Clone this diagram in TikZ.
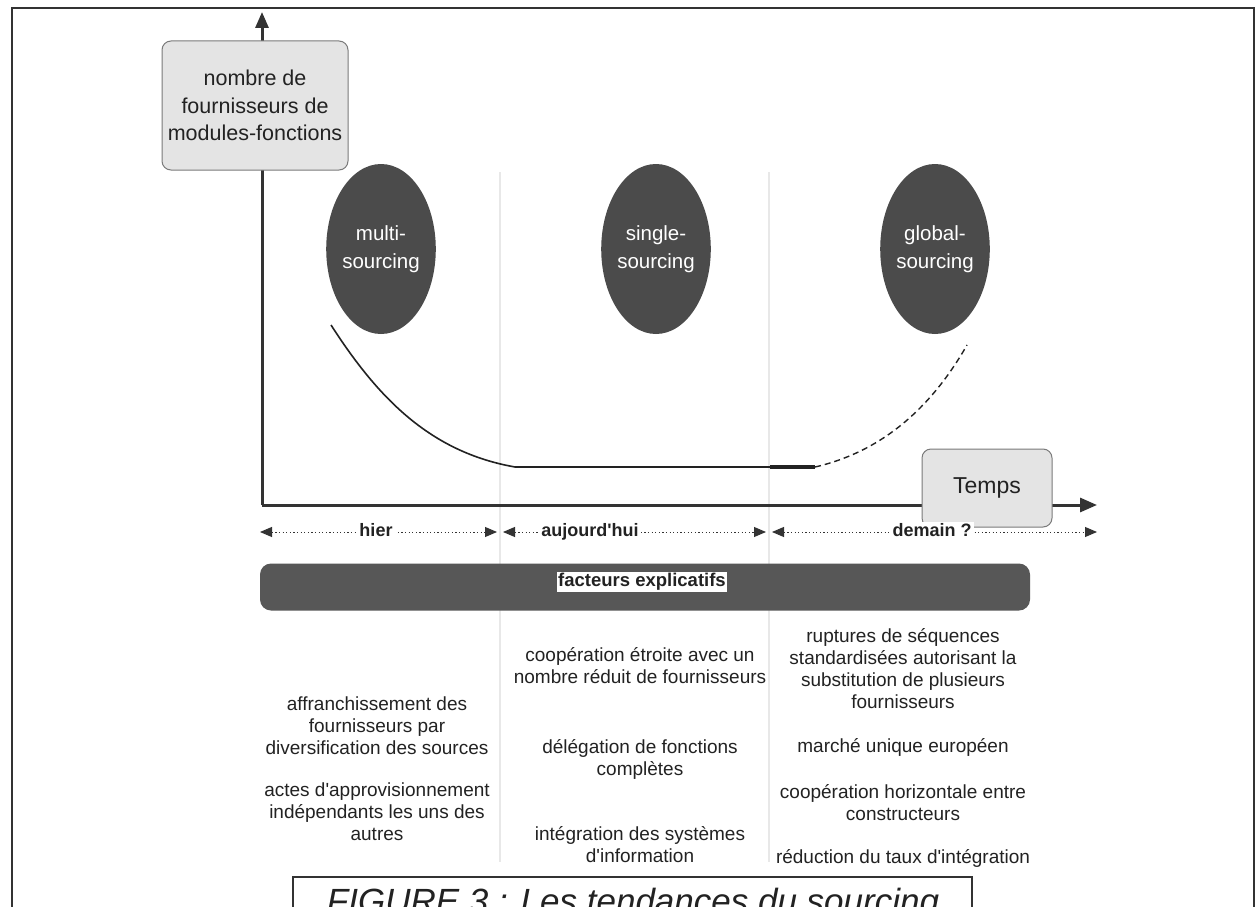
\documentclass[tikz,border=0pt]{standalone}
\usepackage{fontspec}
\setmainfont{Liberation Sans}
\usetikzlibrary{arrows.meta,shapes.geometric}
\definecolor{ink}{HTML}{222222}
\definecolor{axisgray}{HTML}{333333}
\definecolor{ellgray}{HTML}{4B4B4B}
\definecolor{bargray}{HTML}{575757}
\definecolor{boxfill}{HTML}{E4E4E4}
\definecolor{boxline}{HTML}{7A7A7A}
\definecolor{divgray}{HTML}{E8E8E8}
\newcommand{\apos}{\textquotesingle}
\tikzset{
  axisline/.style={draw=axisgray, line width=3pt},
  labelbox/.style={draw=boxline, line width=1pt, fill=boxfill, rounded corners=9pt,
    align=center, text=ink, inner sep=0pt},
  phase/.style={ellipse, fill=ellgray, draw=none, minimum width=96pt, minimum height=170pt,
    inner sep=0pt, text=white, align=center, font=\fontsize{20.5}{28}\selectfont},
  period/.style={draw=axisgray, line width=0.9pt, dash pattern=on 1.3pt off 2.3pt,
    {Triangle[length=12pt,width=10pt]}-{Triangle[length=12pt,width=10pt]}},
  periodlabel/.style={fill=white, inner sep=2pt, text height=13pt, text depth=4pt,
    text=ink, font=\bfseries\fontsize{18}{20}\selectfont},
  factor/.style={align=center, text=ink, inner sep=0pt, font=\fontsize{19}{22}\selectfont},
  divider/.style={draw=divgray, line width=1.2pt}
}
\begin{document}
\begin{tikzpicture}[x=1pt,y=-1pt]
\useasboundingbox (0,0) rectangle (1258,907);
\clip (0,0) rectangle (1258,907);
\fill[white] (0,0) rectangle (1258,907);

% outer frame, open at the bottom
\draw[axisgray, line width=1.6pt] (12,910) -- (12,8) -- (1254,8) -- (1254,910);

% faint dividers between the three periods
\draw[divider] (500,172) -- (500,862);
\draw[divider] (769,172) -- (769,862);

% axes
\coordinate (O) at (262,505);
\coordinate (ytip) at (262,12);
\coordinate (xtip) at (1097,505);
\draw[axisline, -{Triangle[length=16pt,width=13pt]}] (O) -- (ytip);
\draw[axisline, -{Triangle[length=17pt,width=14pt]}] (O) -- (xtip);

% axis labels
\node[labelbox, minimum width=186pt, minimum height=129pt,
      font=\fontsize{21.5}{27.5}\selectfont] (ylab) at (255,105.5)
  {nombre de\\fournisseurs de\\modules-fonctions};
\node[labelbox, minimum width=130pt, minimum height=78pt,
      font=\fontsize{23}{26}\selectfont] (xlab) at (987,488) {Temps};

% sourcing phases
\node[phase] (multi)  at (381,249) {multi-\\sourcing};
\node[phase] (single) at (656,249) {single-\\sourcing};
\node[phase] (global) at (935,249) {global-\\sourcing};

% trend of the number of suppliers
\coordinate (c0) at (331,325);
\coordinate (c1) at (515,467);
\coordinate (c2) at (770,467);
\coordinate (c3) at (815,467);
\coordinate (c4) at (967,345);
\draw[ink, line width=1.6pt] (c0) .. controls (378,398) and (430,452) .. (c1) -- (c2);
\draw[ink, line width=3.2pt] (c2) -- (c3);
\draw[ink, line width=1.4pt, dash pattern=on 6pt off 4pt]
  (c3) .. controls (880,452) and (930,410) .. (c4);

% periods
\coordinate (p0) at (260,532);
\coordinate (p1) at (497,532);
\coordinate (p2) at (503,532);
\coordinate (p3) at (766,532);
\coordinate (p4) at (772,532);
\coordinate (p5) at (1097,532);
\draw[period] (p0) -- (p1);
\draw[period] (p2) -- (p3);
\draw[period] (p4) -- (p5);
\node[periodlabel] (hier) at (376,532) {hier};
\node[periodlabel] (auj) at (590,532) {aujourd\apos hui};
\node[periodlabel] (dem) at (932,532) {demain ?};

% explanatory factors bar
\node[fill=bargray, rounded corners=11pt, minimum width=770pt, minimum height=47pt,
      inner sep=0pt] (bar) at (645,587) {};
\node[fill=white, inner sep=1.5pt, text=ink,
      font=\bfseries\fontsize{18.5}{20}\selectfont] (barlab) at (642,582) {facteurs explicatifs};

% factors per period
\node[factor] (f1a) at (377,726) {affranchissement des\\fournisseurs par\\diversification des sources};
\node[factor] (f1b) at (377,812) {actes d\apos approvisionnement\\indépendants les uns des\\autres};
\node[factor] (f2a) at (640,666) {coopération étroite avec un\\nombre réduit de fournisseurs};
\node[factor] (f2b) at (640,759) {délégation de fonctions\\complètes};
\node[factor] (f2c) at (640,845) {intégration des systèmes\\d\apos information};
\node[factor] (f3a) at (903,668.5) {ruptures de séquences\\standardisées autorisant la\\substitution de plusieurs\\fournisseurs};
\node[factor] (f3b) at (903,747) {marché unique européen};
\node[factor] (f3c) at (903,802.5) {coopération horizontale entre\\constructeurs};
\node[factor] (f3d) at (903,858) {réduction du taux d\apos intégration};

% caption box, cut by the page edge
\draw[axisgray, line width=1.4pt] (293,930) -- (293,877) -- (972,877) -- (972,930);
\node[anchor=base, text=ink, inner sep=0pt,
      font=\itshape\fontsize{35}{40}\selectfont] (caption) at (633,913)
  {FIGURE 3 : Les tendances du sourcing};
\end{tikzpicture}
\end{document}
